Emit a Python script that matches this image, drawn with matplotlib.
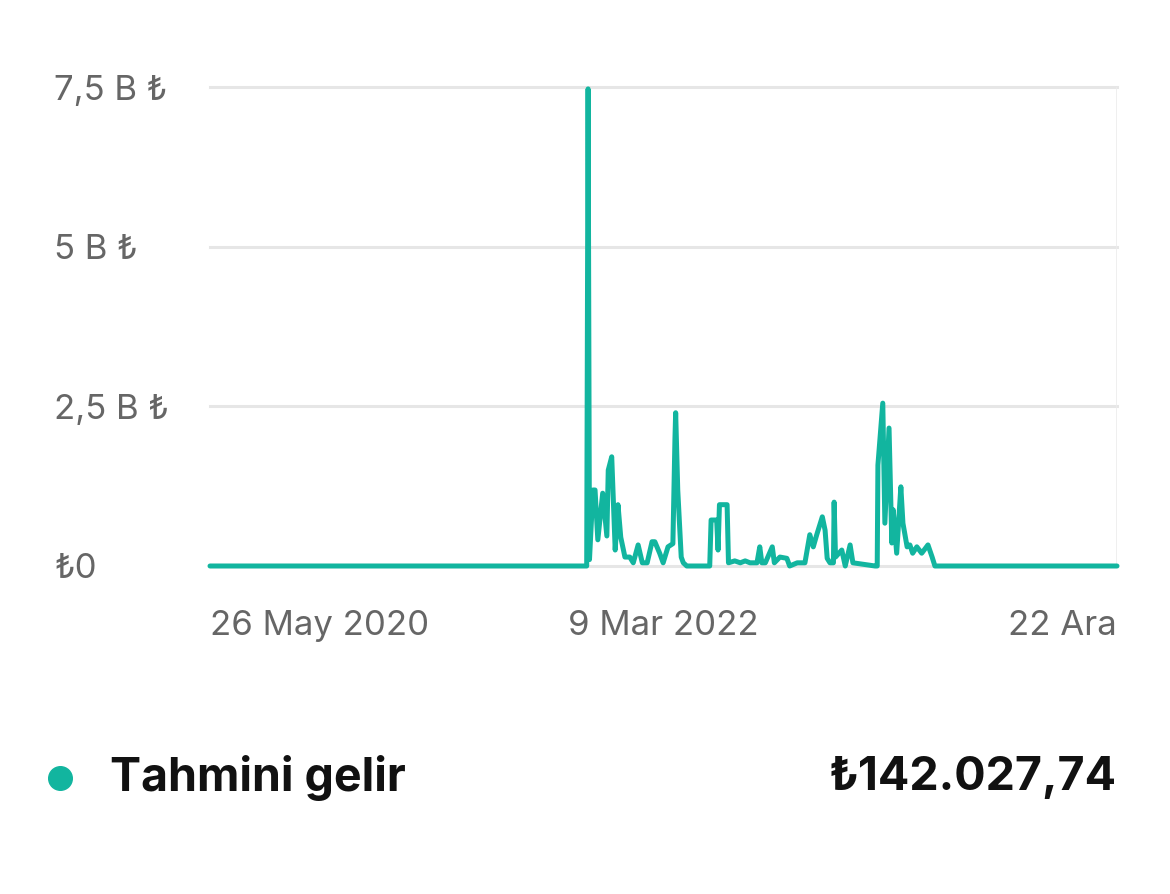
import matplotlib.pyplot as plt
import pandas as pd

# data (days since 26 May 2020, revenue in billions of TRY)
start_date = "2020-05-26"
days = [0, 542, 544, 546, 551, 554, 558, 565, 571, 573,
        578, 583, 587, 591, 597, 604, 609, 616, 622, 629,
        636, 640, 647, 652, 659, 666, 669, 670, 673, 678,
        681, 686, 719, 721, 729, 731, 733, 744, 746, 755,
        763, 770, 777, 787, 791, 794, 799, 809, 812, 820,
        830, 834, 845, 856, 863, 868, 873, 881, 885, 888,
        892, 897, 898, 900, 909, 914, 921, 925, 957, 960,
        961, 968, 971, 977, 981, 983, 988, 994, 997, 1003,
        1007, 1011, 1017, 1024, 1033, 1039, 1043, 1305]
values = [0, 0, 7.47, 0.10, 1.19, 1.19, 0.41, 1.14, 0.47, 1.50,
          1.71, 0.25, 0.96, 0.45, 0.14, 0.14, 0.05, 0.33, 0.05, 0.05,
          0.38, 0.38, 0.20, 0.05, 0.30, 0.35, 2.00, 2.40, 1.19, 0.14,
          0.05, 0, 0, 0.72, 0.72, 0.25, 0.96, 0.96, 0.05, 0.08,
          0.05, 0.08, 0.05, 0.05, 0.30, 0.05, 0.05, 0.30, 0.05, 0.14,
          0.12, 0, 0.05, 0.05, 0.49, 0.30, 0.49, 0.77, 0.56, 0.12,
          0.05, 0.05, 1.00, 0.14, 0.25, 0, 0.33, 0.05, 0, 0,
          1.58, 2.55, 0.67, 2.16, 0.36, 0.88, 0.20, 1.24, 0.67, 0.30,
          0.33, 0.20, 0.30, 0.20, 0.33, 0.14, 0, 0]

ytick_vals = [0, 2.5, 5, 7.5]
ytick_labels = ["₺0", "2,5 B ₺", "5 B ₺", "7,5 B ₺"]
xtick_days = [0, 652, 1305]
xtick_labels = ["26 May 2020", "9 Mar 2022", "22 Ara"]

series_name = "Tahmini gelir"
total_label = "₺142.027,74"

teal = "#12b59f"
fonts = ["Inter", "DejaVu Sans"]

dates = pd.to_datetime(start_date) + pd.to_timedelta(days, unit="D")
xtick_dates = pd.to_datetime(start_date) + pd.to_timedelta(xtick_days, unit="D")

fig = plt.figure(figsize=(11.7, 8.94), dpi=100)
ax = fig.add_axes([210 / 1170, 1 - 566 / 894, 907 / 1170, 479 / 894])

ax.plot(dates, values, color=teal, linewidth=3.6, solid_joinstyle="round",
        solid_capstyle="round", clip_on=False, zorder=3)

ax.set_xlim(dates[0], dates[-1])
ax.set_ylim(0, 7.5)

ax.set_yticks(ytick_vals)
ax.set_yticklabels(ytick_labels)
ax.set_xticks(xtick_dates)
ax.set_xticklabels(xtick_labels)

for y in ytick_vals:
    ax.axhline(y, color="#e6e6e6", linewidth=2.2, zorder=1, clip_on=False)
ax.axvline(dates[-1], color="#ececec", linewidth=1.2, zorder=1)

for s in ax.spines.values():
    s.set_visible(False)

ax.tick_params(axis="both", length=0, labelsize=25, labelcolor="#666666")
ax.tick_params(axis="y", pad=112)
ax.tick_params(axis="x", pad=32)
for lab in ax.get_yticklabels():
    lab.set_ha("left")
    lab.set_family(fonts)
xl = ax.get_xticklabels()
for lab in xl:
    lab.set_family(fonts)
xl[0].set_ha("left")
xl[1].set_ha("center")
xl[2].set_ha("right")

# legend row below the chart
fig.add_artist(plt.Line2D([60 / 1170], [1 - 778 / 894], marker="o", markersize=17,
                          color=teal, linestyle="none", transform=fig.transFigure))
fig.text(110 / 1170, 1 - 778 / 894, series_name, fontsize=33.5, fontweight="bold",
         color="#111111", ha="left", va="center", family=fonts)
fig.text(1117 / 1170, 1 - 778 / 894, total_label, fontsize=33.5, fontweight="bold",
         color="#111111", ha="right", va="center", family=fonts)

fig.savefig("out.png", dpi=100, facecolor="white")
